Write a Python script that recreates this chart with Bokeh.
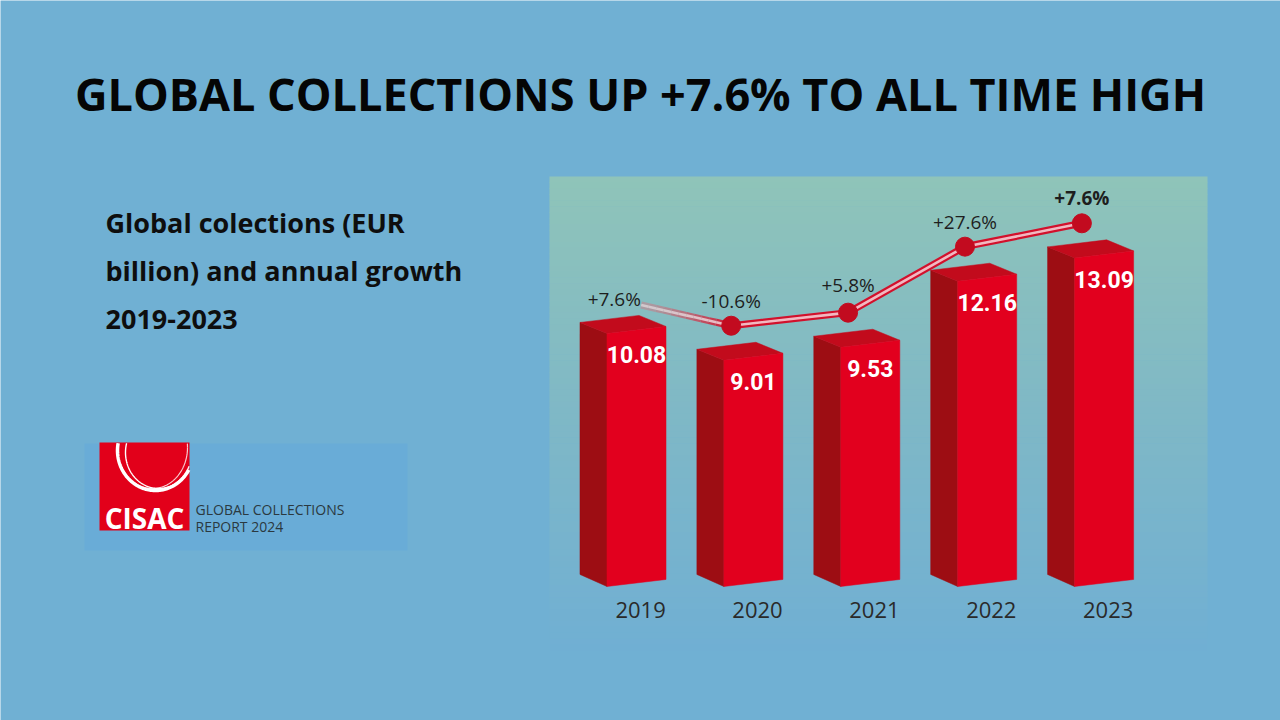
from bokeh.plotting import figure
from bokeh.models import Range1d
from bokeh.core.properties import value
from bokeh.embed import file_html
from bokeh.resources import INLINE
import numpy as np

# ---------------- data ----------------
years = ["2019", "2020", "2021", "2022", "2023"]
collections = [10.08, 9.01, 9.53, 12.16, 13.09]          # EUR billion
value_labels = ["10.08", "9.01", "9.53", "12.16", "13.09"]
growth_labels = ["+7.6%", "-10.6%", "+5.8%", "+27.6%", "+7.6%"]

title_text = "GLOBAL COLLECTIONS UP +7.6% TO ALL TIME HIGH"
subtitle_lines = ["Global colections (EUR", "billion) and annual growth", "2019-2023"]
logo_word = "CISAC"
logo_lines = ["GLOBAL COLLECTIONS", "REPORT 2024"]

# ---------------- styles ----------------
BG = "#70b0d3"
FRONT = "#e2001e"
SIDE = "#9d0d13"
TOP = "#c20b1c"
LINE_RED = "#d2112c"
LINE_PINK = "#f2b8c1"
DOT = "#c20b1f"
TXT = "#1e1e1e"

p = figure(width=1280, height=720,
           x_range=Range1d(0, 1280), y_range=Range1d(720, 0),
           output_backend="svg", toolbar_location=None, min_border=0,
           x_axis_location=None, y_axis_location=None,
           background_fill_color=BG, border_fill_color=BG,
           outline_line_color=None)
p.grid.visible = False

# data scales for the chart: category index -> x, value -> y
p.extra_x_ranges = {"idx": Range1d(-5.4405, 5.509)}
p.extra_y_ranges = {"val": Range1d(-5.339, 23.347)}

# ---------------- chart panel with vertical gradient ----------------
def hex2rgb(h):
    h = h.lstrip("#")
    return np.array([int(h[i:i + 2], 16) for i in (0, 2, 4)], dtype=float)

def rgb2hex(c):
    return "#%02x%02x%02x" % tuple(int(round(v)) for v in c)

c_top, c_mid, c_bot = hex2rgb("#8fc4b9"), hex2rgb("#7fb8c6"), hex2rgb("#70afd3")
N = 80
y0, y1 = 176.0, 650.0
edges = np.linspace(y0, y1, N + 1)
cols = []
for k in range(N):
    t = (k + 0.5) / N
    if t < 0.5:
        c = c_top + (c_mid - c_top) * (t / 0.5)
    else:
        c = c_mid + (c_bot - c_mid) * ((t - 0.5) / 0.5)
    cols.append(rgb2hex(c))
p.quad(left=549, right=1207, top=edges[:-1], bottom=edges[1:] + 0.6,
       fill_color=cols, line_color=None)

# ---------------- 3D bars ----------------
FW, DX, DY, TILT, SIDE_BOT = 0.505, 0.231, 0.44, 0.28, 0.48
fx, fy, sx, sy, tx, ty = [], [], [], [], [], []
for i, v in enumerate(collections):
    fl, fr = i - FW / 2, i + FW / 2
    fx.append([fl, fr, fr, fl]); fy.append([v, v + TILT, TILT, 0])
    sx.append([fl - DX, fl, fl, fl - DX]); sy.append([v + DY, v, 0, SIDE_BOT])
    tx.append([fl - DX, fl - DX + FW, fr, fl]); ty.append([v + DY, v + DY + TILT, v + TILT, v])

p.patches(sx, sy, fill_color=SIDE, line_color=SIDE, line_width=0.5,
          x_range_name="idx", y_range_name="val")
p.patches(tx, ty, fill_color=TOP, line_color=TOP, line_width=0.5,
          x_range_name="idx", y_range_name="val")
p.patches(fx, fy, fill_color=FRONT, line_color=FRONT, line_width=0.5,
          x_range_name="idx", y_range_name="val")

# value labels inside bars
idx = list(range(len(years)))
p.text(x=idx, y=[v - 0.85 for v in collections], text=value_labels,
       x_range_name="idx", y_range_name="val",
       text_align="center", text_baseline="middle",
       text_font=value("Roboto"), text_font_style="bold",
       text_font_size="23px", text_color="white")

# year labels
p.text(x=[i + 0.035 for i in idx], y=[-0.95] * len(idx), text=years,
       x_range_name="idx", y_range_name="val",
       text_align="center", text_baseline="middle",
       text_font=value("Open Sans"), text_font_size="22px", text_color="#2a2a2a")

# ---------------- growth line ----------------
px = [i - 0.19 for i in idx]
py = [v + 1.38 for v in collections]

# faded first segment (starts right after the 2019 label)
t0 = 0.23
nseg = 12
ts = np.linspace(t0, 1.0, nseg + 1)
segx = [[px[0] + (px[1] - px[0]) * ts[k], px[0] + (px[1] - px[0]) * ts[k + 1]] for k in range(nseg)]
segy = [[py[0] + (py[1] - py[0]) * ts[k], py[0] + (py[1] - py[0]) * ts[k + 1]] for k in range(nseg)]
o0, o1 = hex2rgb("#ab9ca3"), hex2rgb(LINE_RED)
i0, i1 = hex2rgb("#d2c9cd"), hex2rgb(LINE_PINK)
ocol = [rgb2hex(o0 + (o1 - o0) * ((k + 0.5) / nseg) ** 1.6) for k in range(nseg)]
icol = [rgb2hex(i0 + (i1 - i0) * ((k + 0.5) / nseg) ** 1.6) for k in range(nseg)]
p.multi_line(segx, segy, line_color=ocol, line_width=7,
             x_range_name="idx", y_range_name="val")
p.multi_line(segx, segy, line_color=icol, line_width=2.6,
             x_range_name="idx", y_range_name="val")

p.line(px[1:], py[1:], line_color=LINE_RED, line_width=7, line_join="miter",
       x_range_name="idx", y_range_name="val")
p.line(px[1:], py[1:], line_color=LINE_PINK, line_width=2.6, line_join="miter",
       x_range_name="idx", y_range_name="val")
p.scatter(px[1:], py[1:], size=19, fill_color=DOT, line_color=DOT,
          x_range_name="idx", y_range_name="val")

label_dy = [0.0, 1.0, 1.1, 1.0, 1.0]
gy = [py[i] + label_dy[i] for i in idx]
p.text(x=px[:4], y=gy[:4], text=growth_labels[:4],
       x_range_name="idx", y_range_name="val",
       text_align="center", text_baseline="middle",
       text_font=value("Open Sans"), text_font_size="19px", text_color=TXT)
p.text(x=px[4:], y=gy[4:], text=growth_labels[4:],
       x_range_name="idx", y_range_name="val",
       text_align="center", text_baseline="middle",
       text_font=value("Open Sans"), text_font_style="bold",
       text_font_size="19px", text_color=TXT)

# ---------------- title & subtitle ----------------
p.text(x=[640], y=[93], text=[title_text], text_align="center", text_baseline="middle",
       text_font=value("Open Sans"), text_font_style="bold",
       text_font_size="45px", text_color="#050505")

p.text(x=[105] * 3, y=[222, 270, 319], text=subtitle_lines,
       text_align="left", text_baseline="middle",
       text_font=value("Open Sans"), text_font_style="bold",
       text_font_size="27px", text_color="#0e0e0e")

# ---------------- logo ----------------
p.quad(left=84, right=407, top=443, bottom=550, fill_color="#69acd7", line_color=None)
p.quad(left=99, right=189, top=442, bottom=530, fill_color="#e2001a", line_color=None)

def clipped_arc(cx, cy, rx, ry):
    a = np.linspace(0, 2 * np.pi, 400)
    x = cx + rx * np.cos(a)
    y = cy + ry * np.sin(a)
    keep = (x <= 188.5) & (x >= 99.5) & (y >= 442.5) & (y <= 529)
    xs, ys, cx_, cy_ = [], [], [], []
    for k in range(len(a)):
        if keep[k]:
            cx_.append(x[k]); cy_.append(y[k])
        elif cx_:
            xs.append(cx_); ys.append(cy_); cx_, cy_ = [], []
    if cx_:
        xs.append(cx_); ys.append(cy_)
    return xs, ys

ax1, ay1 = clipped_arc(155, 450, 38, 40)
ax2, ay2 = clipped_arc(158, 452, 33, 36)
ax3, ay3 = clipped_arc(152, 447, 35, 41)
p.multi_line(ax1, ay1, line_color="white", line_width=3.5)
p.multi_line(ax2, ay2, line_color="white", line_width=1.4)
p.multi_line(ax3, ay3, line_color="white", line_width=1.2, line_alpha=0.8)

p.text(x=[144], y=[517], text=[logo_word], text_align="center", text_baseline="middle",
       text_font=value("Open Sans"), text_font_style="bold",
       text_font_size="28px", text_color="white")
p.text(x=[195, 195], y=[509, 526], text=logo_lines, text_align="left", text_baseline="middle",
       text_font=value("Open Sans"), text_font_size="14px", text_color="#2b3940")

open("out.html", "w").write(file_html(p, INLINE))
